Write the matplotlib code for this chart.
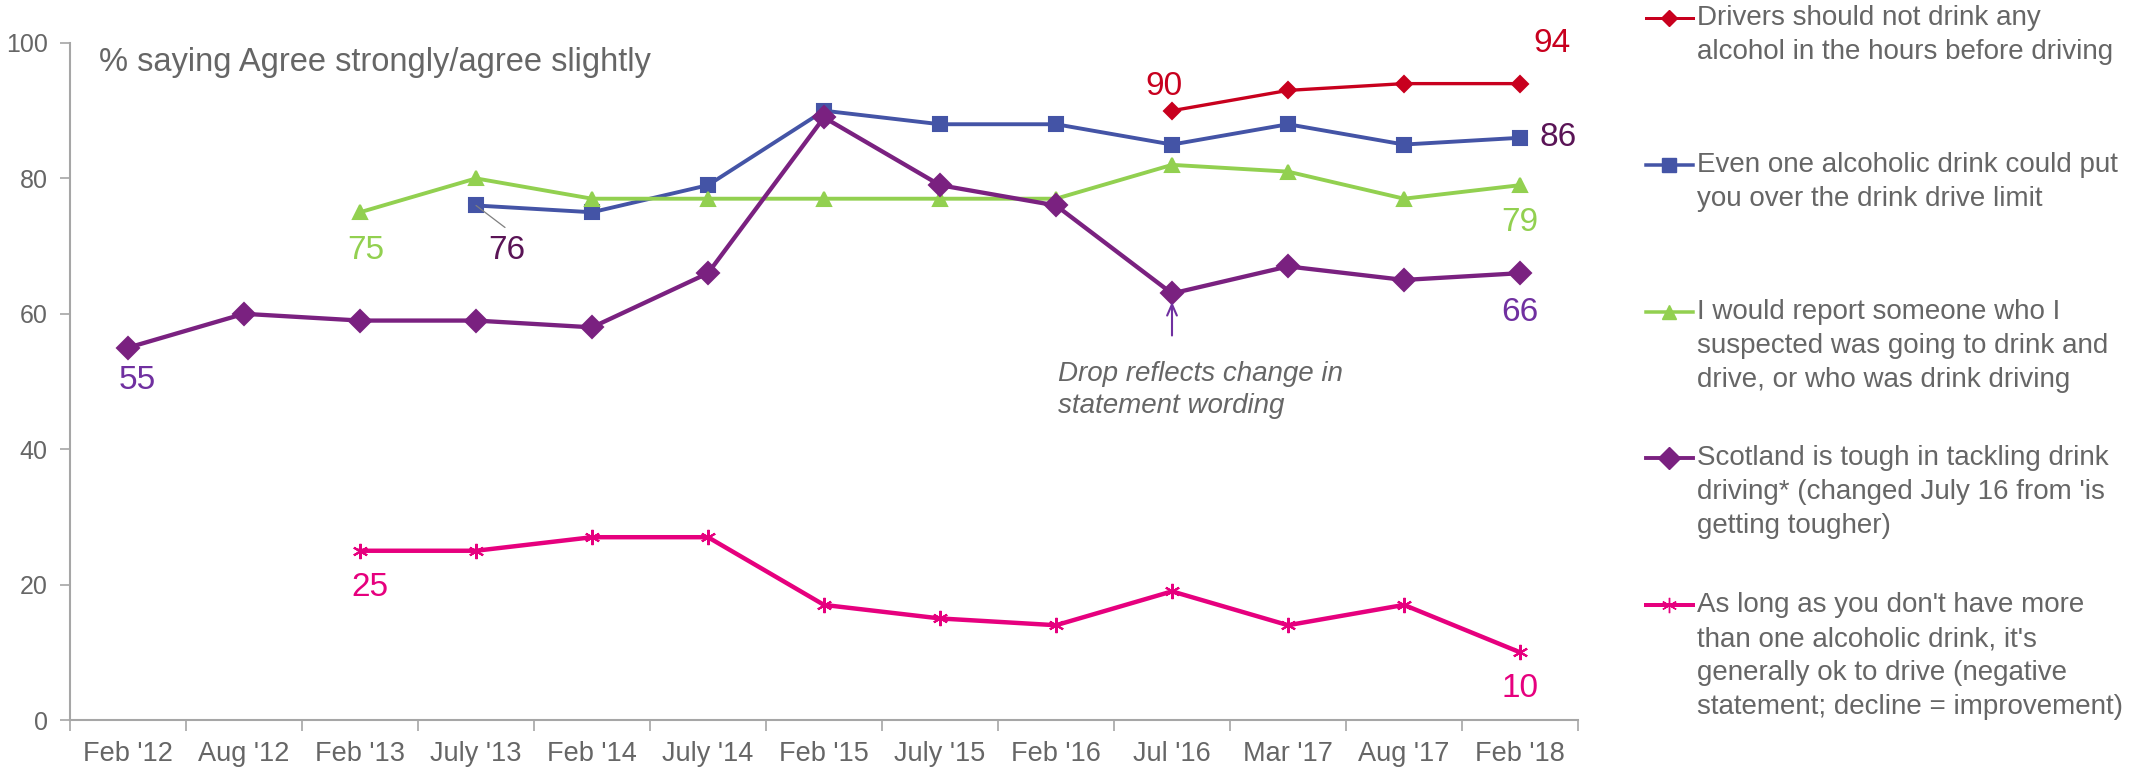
import numpy as np
import matplotlib
matplotlib.use("Agg")
import matplotlib.pyplot as plt
from matplotlib.lines import Line2D

plt.rcParams['font.family'] = ['Liberation Sans', 'DejaVu Sans']

nan = np.nan
categories = ["Feb '12", "Aug '12", "Feb '13", "July '13", "Feb '14", "July '14",
              "Feb '15", "July '15", "Feb '16", "Jul '16", "Mar '17", "Aug '17", "Feb '18"]

drivers_no_alcohol = [nan, nan, nan, nan, nan, nan, nan, nan, nan, 90, 93, 94, 94]
one_drink_limit = [nan, nan, nan, 76, 75, 79, 90, 88, 88, 85, 88, 85, 86]
would_report = [nan, nan, 75, 80, 77, 77, 77, 77, 77, 82, 81, 77, 79]
scotland_tough = [55, 60, 59, 59, 58, 66, 89, 79, 76, 63, 67, 65, 66]
one_drink_ok = [nan, nan, 25, 25, 27, 27, 17, 15, 14, 19, 14, 17, 10]

legend_labels = [
    "Drivers should not drink any\nalcohol in the hours before driving",
    "Even one alcoholic drink could put\nyou over the drink drive limit",
    "I would report someone who I\nsuspected was going to drink and\ndrive, or who was drink driving",
    "Scotland is tough in tackling drink\ndriving* (changed July 16 from 'is\ngetting tougher)",
    "As long as you don't have more\nthan one alcoholic drink, it's\ngenerally ok to drive (negative\nstatement; decline = improvement)",
]

title_text = "% saying Agree strongly/agree slightly"
note_text = "Drop reflects change in\nstatement wording"

RED = '#C8001E'
BLUE = '#4454A6'
GREEN = '#92D050'
PURPLE = '#7A2180'
MAGENTA = '#E6007E'
GREY = '#666666'
AXIS = '#A6A6A6'

series = [
    (drivers_no_alcohol, RED, 'D', 8, 2.4),
    (one_drink_limit, BLUE, 's', 9.5, 2.8),
    (would_report, GREEN, '^', 10, 2.8),
    (scotland_tough, PURPLE, 'D', 11, 3.1),
    (one_drink_ok, MAGENTA, (6, 2, 0), 11, 3.2),
]

W, H = 2129, 768
fig = plt.figure(figsize=(W / 100, H / 100), dpi=100)
ax = fig.add_axes([70 / W, 48 / H, 1508 / W, 677 / H])

x = np.arange(len(categories))
for vals, col, mk, ms, lw in series:
    ax.plot(x, vals, color=col, lw=lw, marker=mk, ms=ms, mec=col, mfc=col,
            mew=1.5, solid_joinstyle='round', zorder=3)

ax.set_xlim(-0.5, len(categories) - 0.5)
ax.set_ylim(0, 100)
ax.set_yticks([0, 20, 40, 60, 80, 100])
ax.set_xticks(x)
ax.set_xticklabels(categories)
ax.set_xticks(np.arange(-0.5, len(categories), 1.0), minor=True)
ax.tick_params(axis='x', which='major', length=0, pad=15, labelsize=19.5, labelcolor=GREY)
ax.tick_params(axis='x', which='minor', length=8, width=1.2, color=AXIS, direction='out')
ax.tick_params(axis='y', length=7, width=1.2, color=AXIS, direction='out', pad=9,
               labelsize=18, labelcolor=GREY)
for s in ['top', 'right']:
    ax.spines[s].set_visible(False)
for s in ['left', 'bottom']:
    ax.spines[s].set_color(AXIS)
    ax.spines[s].set_linewidth(1.5)

fig.text(99 / W, 1 - 62 / H, title_text, fontsize=23.5, color=GREY, va='center', ha='left')

# data labels
def lab(i, vals, dx, dy, col, ha='center'):
    ax.annotate(f"{vals[i]:g}", xy=(i, vals[i]), xytext=(dx, dy), textcoords='offset pixels',
                ha=ha, va='center', fontsize=24, color=col, zorder=5)

lab(9, drivers_no_alcohol, -8, 24, RED)
lab(12, drivers_no_alcohol, 32, 40, RED)
lab(12, one_drink_limit, 38, 0, '#5A1456')
lab(12, would_report, 0, -37, GREEN)
lab(12, scotland_tough, 0, -39, '#7030A0')
lab(12, one_drink_ok, 0, -36, MAGENTA)
lab(2, one_drink_ok, 10, -37, MAGENTA)
lab(2, would_report, 6, -38, GREEN)
lab(0, scotland_tough, 9, -33, '#7030A0')
# 76 with leader line
ax.annotate(f"{one_drink_limit[3]:g}", xy=(3, one_drink_limit[3]), xytext=(31, -45),
            textcoords='offset pixels', ha='center', va='center', fontsize=24,
            color='#5A1456', zorder=5)
ax.annotate("", xy=(3, one_drink_limit[3]), xytext=(29, -22), textcoords='offset pixels',
            arrowprops=dict(arrowstyle='-', color='#7F7F7F', lw=0.9, shrinkA=0, shrinkB=0))

# annotation with arrow
ax.annotate("", xy=(9, scotland_tough[9]), xytext=(0, -42), textcoords='offset pixels',
            arrowprops=dict(arrowstyle='->,head_length=0.8,head_width=0.35', color='#7030A0',
                            lw=1.5, shrinkA=0, shrinkB=6))
fig.text(1058 / W, 1 - 390 / H, note_text, fontsize=20, style='italic', color=GREY,
         ha='left', va='center', linespacing=1.3)

# legend (manual, irregular layout as in original)
leg_y = [18, 165, 312, 458, 605]
for (vals, col, mk, ms, lw), lbl, yy in zip(series, legend_labels, leg_y):
    yf = 1 - yy / H
    fig.add_artist(Line2D([1646 / W, 1669 / W, 1693 / W], [yf, yf, yf], transform=fig.transFigure,
                          color=col, lw=lw * 0.9, marker=mk, ms=ms, mfc=col, mec=col,
                          markevery=[1]))
    for k, line in enumerate(lbl.split('\n')):
        fig.text(1697 / W, 1 - (yy + 34 * k) / H, line, fontsize=20, color=GREY,
                 ha='left', va='center')

fig.savefig('out.png', dpi=100)
